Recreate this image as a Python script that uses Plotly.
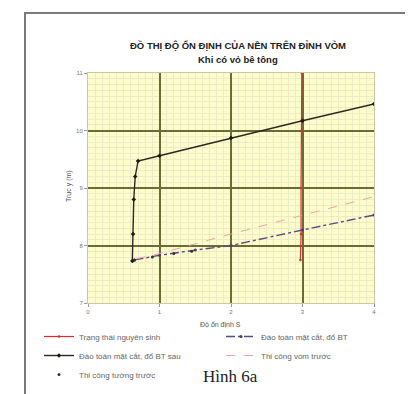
import plotly.graph_objects as go

# Data
nguyen_sinh_x = [2.97, 2.98, 2.98, 2.99, 2.99]
nguyen_sinh_y = [7.75, 8.2, 9.0, 10.0, 11.0]

bt_x = [0.65, 1.0, 1.5, 2.0, 3.0, 4.0]
bt_y = [7.75, 7.83, 7.92, 8.0, 8.27, 8.53]

bt_sau_x = [0.62, 0.63, 0.64, 0.66, 0.70, 1.0, 2.0, 3.0, 4.0]
bt_sau_y = [7.73, 8.2, 8.8, 9.2, 9.47, 9.56, 9.87, 10.17, 10.46]

vom_x = [0.68, 1.0, 2.0, 3.0, 4.0]
vom_y = [7.77, 7.86, 8.2, 8.52, 8.85]

tuong_x = [0.65, 0.9, 1.2, 1.45]
tuong_y = [7.75, 7.8, 7.86, 7.9]

x_ticks = [0, 1, 2, 3, 4]
y_ticks = [7, 8, 9, 10, 11]

names = ["Trạng thái nguyên sinh", "Đào toàn mặt cắt, đổ BT",
         "Đào toàn mặt cắt, đổ BT sau", "Thi công vòm trước",
         "Thi công tường trước"]

fig = go.Figure()
fig.add_trace(go.Scatter(x=nguyen_sinh_x, y=nguyen_sinh_y, name=names[0],
                         mode="lines+markers", legend="legend",
                         line=dict(color="#e8262b", width=1.2),
                         marker=dict(size=2.5, color="#e8262b")))
fig.add_trace(go.Scatter(x=bt_x, y=bt_y, name=names[1], mode="lines+markers",
                         legend="legend2",
                         line=dict(color="#5b4a8a", width=1.4, dash="dashdot"),
                         marker=dict(size=3, color="#4a3d70")))
fig.add_trace(go.Scatter(x=bt_sau_x, y=bt_sau_y, name=names[2], mode="lines+markers",
                         legend="legend",
                         line=dict(color="#2a2a22", width=1.4),
                         marker=dict(size=3.5, color="#1a1a14", symbol="diamond")))
fig.add_trace(go.Scatter(x=vom_x, y=vom_y, name=names[3], mode="lines",
                         legend="legend2",
                         line=dict(color="#f0a0a0", width=1, dash="dash")))
fig.add_trace(go.Scatter(x=tuong_x, y=tuong_y, name=names[4], mode="markers",
                         legend="legend",
                         marker=dict(size=3, color="#333333")))

leg_common = dict(orientation="v", xref="container", yref="container",
                  xanchor="left", yanchor="top", font=dict(size=8, color="#666666"),
                  bgcolor="rgba(0,0,0,0)", tracegroupgap=0, itemwidth=30,
                  traceorder="normal")

fig.update_layout(
    width=413, height=394,
    margin=dict(l=80, r=47, t=65, b=99, autoexpand=False),
    paper_bgcolor="white",
    plot_bgcolor="#fdfdcc",
    font=dict(family="Arial", size=8, color="#555555"),
    showlegend=True,
    legend=dict(leg_common, x=31/413, y=1-314/394),
    legend2=dict(leg_common, x=213/413, y=1-314/394),
)

fig.update_xaxes(range=[0, 4], tickvals=x_ticks, ticktext=[str(v) for v in x_ticks],
                 showgrid=True, gridcolor="#6b6b3a", gridwidth=1.6,
                 minor=dict(dtick=0.1, showgrid=True, gridcolor="#ebebc6", gridwidth=0.5),
                 zeroline=False, showline=True, linecolor="#c8c8b0", linewidth=1, mirror=True,
                 ticks="outside", ticklen=3, tickcolor="#999999",
                 tickfont=dict(size=6, color="#777777"))
fig.update_yaxes(range=[7, 11], tickvals=y_ticks, ticktext=[str(v) for v in y_ticks],
                 showgrid=True, gridcolor="#6b6b3a", gridwidth=1.6,
                 minor=dict(dtick=0.1, showgrid=True, gridcolor="#ebebc6", gridwidth=0.5),
                 zeroline=False, showline=True, linecolor="#c8c8b0", linewidth=1, mirror=True,
                 ticks="outside", ticklen=3, tickcolor="#999999",
                 tickfont=dict(size=6, color="#777777"))

# Axis titles
fig.add_annotation(text="Độ ổn định S", xref="paper", yref="paper",
                   x=(212-80)/286, y=-(322-295)/230, showarrow=False,
                   font=dict(size=7, color="#555555"))
fig.add_annotation(text="Trục y (m)", xref="paper", yref="paper",
                   x=-(80-55)/286, y=(295-178)/230, showarrow=False, textangle=-90,
                   font=dict(size=7, color="#555555"))

# Titles
fig.add_annotation(text="<b>ĐỒ THỊ ĐỘ ỔN ĐỊNH CỦA NỀN TRÊN ĐỈNH VÒM</b>",
                   xref="paper", yref="paper", x=(230-80)/286, y=1+(65-30)/230,
                   showarrow=False, font=dict(size=9.5, color="#222222"))
fig.add_annotation(text="<b>Khi có vỏ bê tông</b>",
                   xref="paper", yref="paper", x=(230-80)/286, y=1+(65-44)/230,
                   showarrow=False, font=dict(size=9.5, color="#222222"))
fig.add_annotation(text="Hình 6a", xref="paper", yref="paper",
                   x=(222-80)/286, y=-(380-295)/230, showarrow=False,
                   font=dict(family="Liberation Serif", size=17, color="#222222"))

# outer frame
fig.add_shape(type="rect", xref="paper", yref="paper",
              x0=-(80-17)/286, x1=1+(409-366)/286,
              y0=-(400-295)/230, y1=1+(65-5)/230,
              line=dict(color="#7a7a7a", width=2), layer="below")

fig.write_html("out.html")
